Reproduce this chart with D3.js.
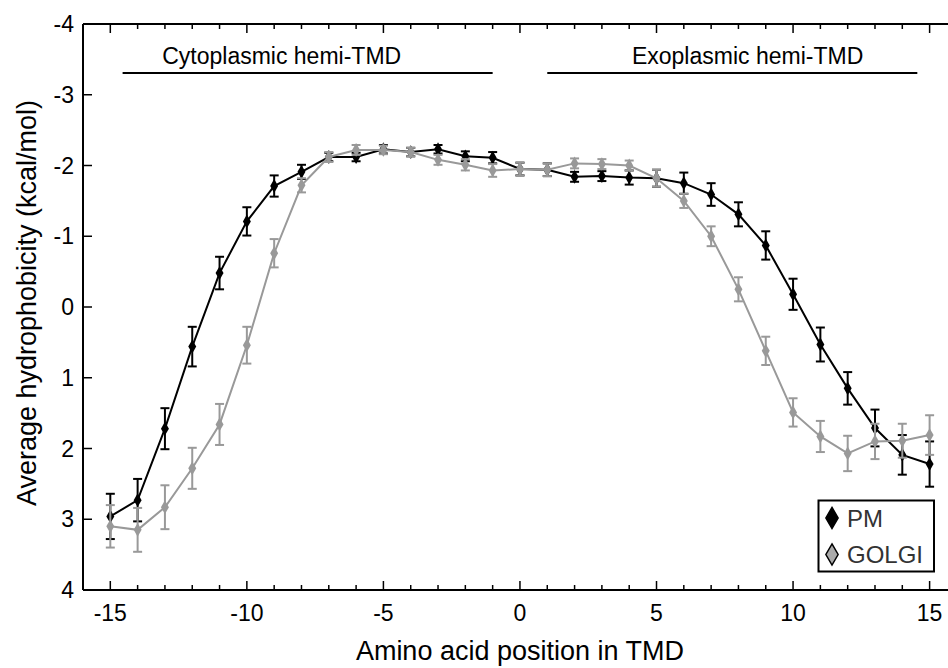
<!DOCTYPE html>
<html>
<head>
<meta charset="utf-8">
<script src="https://cdn.jsdelivr.net/npm/d3@7"></script>
<style>
  body { margin: 0; background: #fff; }
  svg { display: block; font-family: Arial, "Liberation Sans", sans-serif; }
</style>
</head>
<body>
<svg id="chart" width="948" height="668"></svg>
<script>
// amino acid positions in the TMD
const positions = [-15, -14, -13, -12, -11, -10, -9, -8, -7, -6, -5, -4, -3, -2, -1, 0,
    1, 2, 3, 4, 5, 6, 7, 8, 9, 10, 11, 12, 13, 14, 15];

const pmValues = [2.96, 2.73, 1.72, 0.56, -0.48, -1.21, -1.71, -1.91, -2.12, -2.12, -2.23, -2.19, -2.23, -2.13, -2.11, -1.95,
    -1.94, -1.84, -1.85, -1.83, -1.82, -1.75, -1.59, -1.31, -0.87, -0.18, 0.53, 1.15, 1.71, 2.09, 2.22];
const pmErrors = [0.32, 0.3, 0.29, 0.28, 0.23, 0.2, 0.15, 0.1, 0.06, 0.06, 0.06, 0.06, 0.06, 0.07, 0.08, 0.09,
    0.09, 0.07, 0.07, 0.1, 0.12, 0.15, 0.16, 0.17, 0.2, 0.22, 0.24, 0.23, 0.26, 0.28, 0.32];

const golgiValues = [3.1, 3.15, 2.83, 2.28, 1.66, 0.54, -0.76, -1.72, -2.12, -2.22, -2.22, -2.19, -2.08, -2.01, -1.93, -1.95,
    -1.94, -2.03, -2.02, -2.0, -1.82, -1.5, -1.0, -0.25, 0.62, 1.49, 1.83, 2.07, 1.9, 1.89, 1.81];
const golgiErrors = [0.3, 0.31, 0.31, 0.29, 0.29, 0.26, 0.2, 0.1, 0.07, 0.07, 0.06, 0.06, 0.07, 0.08, 0.09, 0.09,
    0.09, 0.07, 0.07, 0.07, 0.12, 0.1, 0.14, 0.17, 0.2, 0.2, 0.22, 0.25, 0.25, 0.24, 0.28];

const xTicks = [-15, -10, -5, 0, 5, 10, 15];
const yTicks = [-4, -3, -2, -1, 0, 1, 2, 3, 4];

const regions = [
    { label: 'Cytoplasmic hemi-TMD', from: -14.55, to: -1, textAt: -13.1 },
    { label: 'Exoplasmic hemi-TMD', from: 1, to: 14.55, textAt: 4.1 }
];

const series = [
    { name: 'PM', values: pmValues, errors: pmErrors, color: '#000', legendFill: '#000' },
    { name: 'GOLGI', values: golgiValues, errors: golgiErrors, color: '#999', legendFill: '#aaa' }
];

const svg = d3.select('#chart');
const plotLeft = 83, plotTop = 24, plotBottom = 590;

const x = d3.scaleLinear().domain([-16, 16]).range([plotLeft, plotLeft + 32 * 27.31]);
const y = d3.scaleLinear().domain([-4, 4]).range([plotTop, plotBottom]);

// frame (right side runs off the picture)
svg.append('line').attr('x1', plotLeft).attr('x2', 948).attr('y1', plotTop).attr('y2', plotTop)
    .attr('stroke', '#000').attr('stroke-width', 2);
svg.append('line').attr('x1', plotLeft).attr('x2', 948).attr('y1', plotBottom).attr('y2', plotBottom)
    .attr('stroke', '#000').attr('stroke-width', 2);
svg.append('line').attr('x1', plotLeft).attr('x2', plotLeft).attr('y1', plotTop).attr('y2', plotBottom)
    .attr('stroke', '#000').attr('stroke-width', 2);

// x ticks, every unit, inward
const units = d3.range(-15, 17);
svg.append('g').selectAll('line').data(units).enter().append('line')
    .attr('x1', d => x(d)).attr('x2', d => x(d))
    .attr('y1', plotBottom).attr('y2', d => plotBottom - (d % 5 === 0 ? 9 : 5))
    .attr('stroke', '#000').attr('stroke-width', 1.5);
svg.append('g').selectAll('line').data(units).enter().append('line')
    .attr('x1', d => x(d)).attr('x2', d => x(d))
    .attr('y1', plotTop).attr('y2', d => plotTop + (d % 5 === 0 ? 9 : 5))
    .attr('stroke', '#000').attr('stroke-width', 1.5);

svg.append('g').selectAll('text').data(xTicks).enter().append('text')
    .attr('x', d => x(d)).attr('y', 621)
    .attr('text-anchor', 'middle').attr('font-size', 23).attr('fill', '#000')
    .text(d => d);

// y ticks
svg.append('g').selectAll('line').data(yTicks).enter().append('line')
    .attr('x1', plotLeft).attr('x2', plotLeft + 9)
    .attr('y1', d => y(d)).attr('y2', d => y(d))
    .attr('stroke', '#000').attr('stroke-width', 1.5);
svg.append('g').selectAll('text').data(yTicks).enter().append('text')
    .attr('x', 74).attr('y', d => y(d) + 8)
    .attr('text-anchor', 'end').attr('font-size', 23).attr('fill', '#000')
    .text(d => d);

// axis titles
svg.append('text').attr('x', x(0)).attr('y', 660)
    .attr('text-anchor', 'middle').attr('font-size', 27).attr('fill', '#000')
    .text('Amino acid position in TMD');
svg.append('text')
    .attr('transform', `translate(36,${(plotTop + plotBottom) / 2 - 4}) rotate(-90)`)
    .attr('text-anchor', 'middle').attr('font-size', 27).attr('fill', '#000')
    .text('Average hydrophobicity (kcal/mol)');

// region annotations
const reg = svg.append('g').selectAll('g').data(regions).enter().append('g');
reg.append('line')
    .attr('x1', d => x(d.from)).attr('x2', d => x(d.to))
    .attr('y1', 73).attr('y2', 73)
    .attr('stroke', '#000').attr('stroke-width', 2);
reg.append('text')
    .attr('x', d => x(d.textAt)).attr('y', 64)
    .attr('font-size', 23).attr('fill', '#000')
    .text(d => d.label);

// series
const line = d3.line().x(d => x(d.pos)).y(d => y(d.v));
const diamond = d3.symbol().type(d3.symbolDiamond).size(55);

series.forEach(s => {
    const pts = positions.map((p, i) => ({ pos: p, v: s.values[i], e: s.errors[i] }));
    const g = svg.append('g');
    g.append('path').datum(pts).attr('d', line)
        .attr('fill', 'none').attr('stroke', s.color).attr('stroke-width', 2);
    const eb = g.selectAll('.eb').data(pts).enter().append('g');
    eb.append('line')
        .attr('x1', d => x(d.pos)).attr('x2', d => x(d.pos))
        .attr('y1', d => y(d.v - d.e)).attr('y2', d => y(d.v + d.e))
        .attr('stroke', s.color).attr('stroke-width', 2);
    [-1, 1].forEach(k => {
        eb.append('line')
            .attr('x1', d => x(d.pos) - 4.5).attr('x2', d => x(d.pos) + 4.5)
            .attr('y1', d => y(d.v + k * d.e)).attr('y2', d => y(d.v + k * d.e))
            .attr('stroke', s.color).attr('stroke-width', 2);
    });
    g.selectAll('.pt').data(pts).enter().append('path')
        .attr('d', diamond)
        .attr('transform', d => `translate(${x(d.pos)},${y(d.v)})`)
        .attr('fill', s.color);
});

// legend
const lg = svg.append('g');
lg.append('rect').attr('x', 818.5).attr('y', 500.5).attr('width', 115.5).attr('height', 71)
    .attr('fill', '#fff').attr('stroke', '#000').attr('stroke-width', 2);
const legendSymbol = d3.symbol().type(d3.symbolDiamond).size(130);
series.forEach((s, i) => {
    const cy = 518 + i * 36.5;
    lg.append('path').attr('d', legendSymbol)
        .attr('transform', `translate(832,${cy})`)
        .attr('fill', s.legendFill).attr('stroke', '#000').attr('stroke-width', 1.5);
    lg.append('text').attr('x', 847).attr('y', cy + 8.5)
        .attr('font-size', 24).attr('fill', '#333')
        .text(s.name);
});
</script>
</body>
</html>
